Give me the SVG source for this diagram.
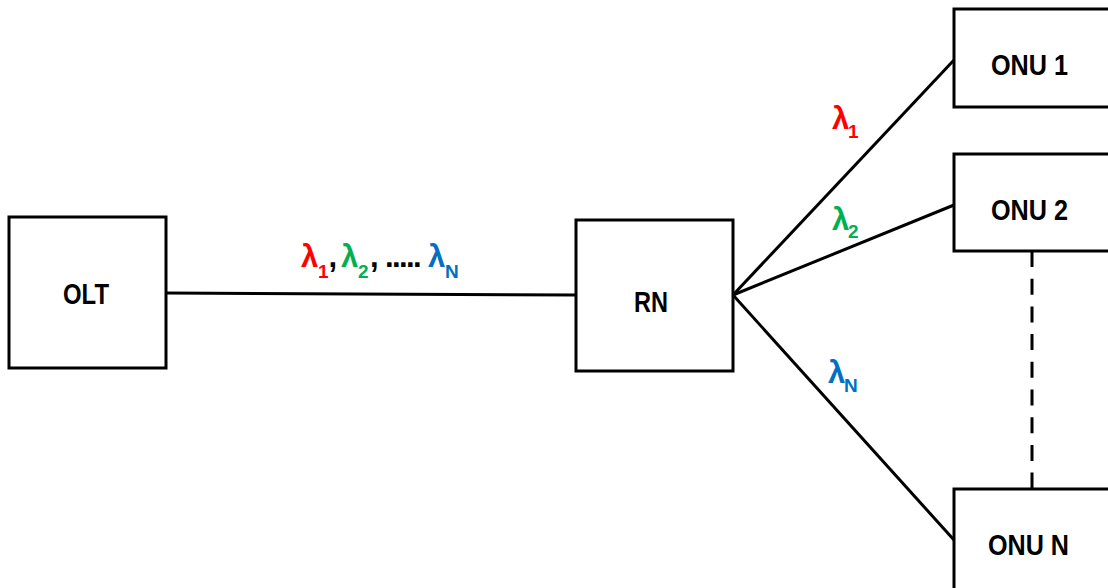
<svg xmlns="http://www.w3.org/2000/svg" width="1108" height="588" viewBox="0 0 1108 588">
  <style>
    .box { fill: #ffffff; stroke: #000000; stroke-width: 3; }
    .link { stroke: #000000; stroke-width: 3; fill: none; }
    .dash { stroke: #000000; stroke-width: 3; fill: none; stroke-dasharray: 16 11.7; }
    .lbl { font-family: "Liberation Sans", Arial, sans-serif; font-weight: bold; font-size: 29px; fill: #000000; text-anchor: middle; }
    .lam { font-family: "Liberation Sans", Arial, sans-serif; font-weight: bold; font-size: 31px; }
    .sub { font-size: 19px; }
    .red { fill: #FF0000; }
    .green { fill: #00B050; }
    .blue { fill: #0070C0; }
    .blk { fill: #000000; }
  </style>
  <rect width="1108" height="588" fill="#ffffff"/>

  <g id="connectors">
    <line class="link" x1="166" y1="293" x2="576" y2="295"/>
    <line class="link" x1="733" y1="295" x2="954" y2="60"/>
    <line class="link" x1="733" y1="295" x2="954" y2="205"/>
    <line class="link" x1="733" y1="295" x2="954" y2="540"/>
    <line class="dash" x1="1032" y1="251" x2="1032" y2="489"/>
  </g>

  <g id="OLT">
    <rect class="box" x="9" y="217" width="157" height="151"/>
    <text class="lbl" x="86" y="304" textLength="46" lengthAdjust="spacingAndGlyphs">OLT</text>
  </g>

  <g id="RN">
    <rect class="box" x="576" y="220" width="157" height="151"/>
    <text class="lbl" x="651" y="312" textLength="34" lengthAdjust="spacingAndGlyphs">RN</text>
  </g>

  <g id="ONU1">
    <rect class="box" x="954" y="9" width="170" height="98"/>
    <text class="lbl" x="1029.5" y="75" textLength="77" lengthAdjust="spacingAndGlyphs">ONU 1</text>
  </g>

  <g id="ONU2">
    <rect class="box" x="954" y="154" width="170" height="97"/>
    <text class="lbl" x="1029.5" y="220" textLength="77" lengthAdjust="spacingAndGlyphs">ONU 2</text>
  </g>

  <g id="ONUN">
    <rect class="box" x="954" y="489" width="170" height="110"/>
    <text class="lbl" x="1028.5" y="555" textLength="81" lengthAdjust="spacingAndGlyphs">ONU N</text>
  </g>

  <g id="label-trunk">
    <text class="lam" y="267"><tspan class="red" x="301">λ</tspan><tspan class="red sub" x="318" dy="11">1</tspan><tspan class="blk" x="328.5" dy="-11">,</tspan><tspan class="green" x="341">λ</tspan><tspan class="green sub" x="358" dy="11">2</tspan><tspan class="blk" x="370" dy="-11">,</tspan><tspan class="blk" x="385" letter-spacing="-1.6">.....</tspan><tspan class="blue" x="428">λ</tspan><tspan class="blue sub" x="445" dy="11">N</tspan></text>
  </g>

  <g id="label-1">
    <text class="lam red" x="832" y="129">λ<tspan class="sub" x="848" dy="9">1</tspan></text>
  </g>
  <g id="label-2">
    <text class="lam green" x="832" y="230">λ<tspan class="sub" x="848" dy="8">2</tspan></text>
  </g>
  <g id="label-N">
    <text class="lam blue" x="828" y="383">λ<tspan class="sub" x="844" dy="9">N</tspan></text>
  </g>
</svg>
